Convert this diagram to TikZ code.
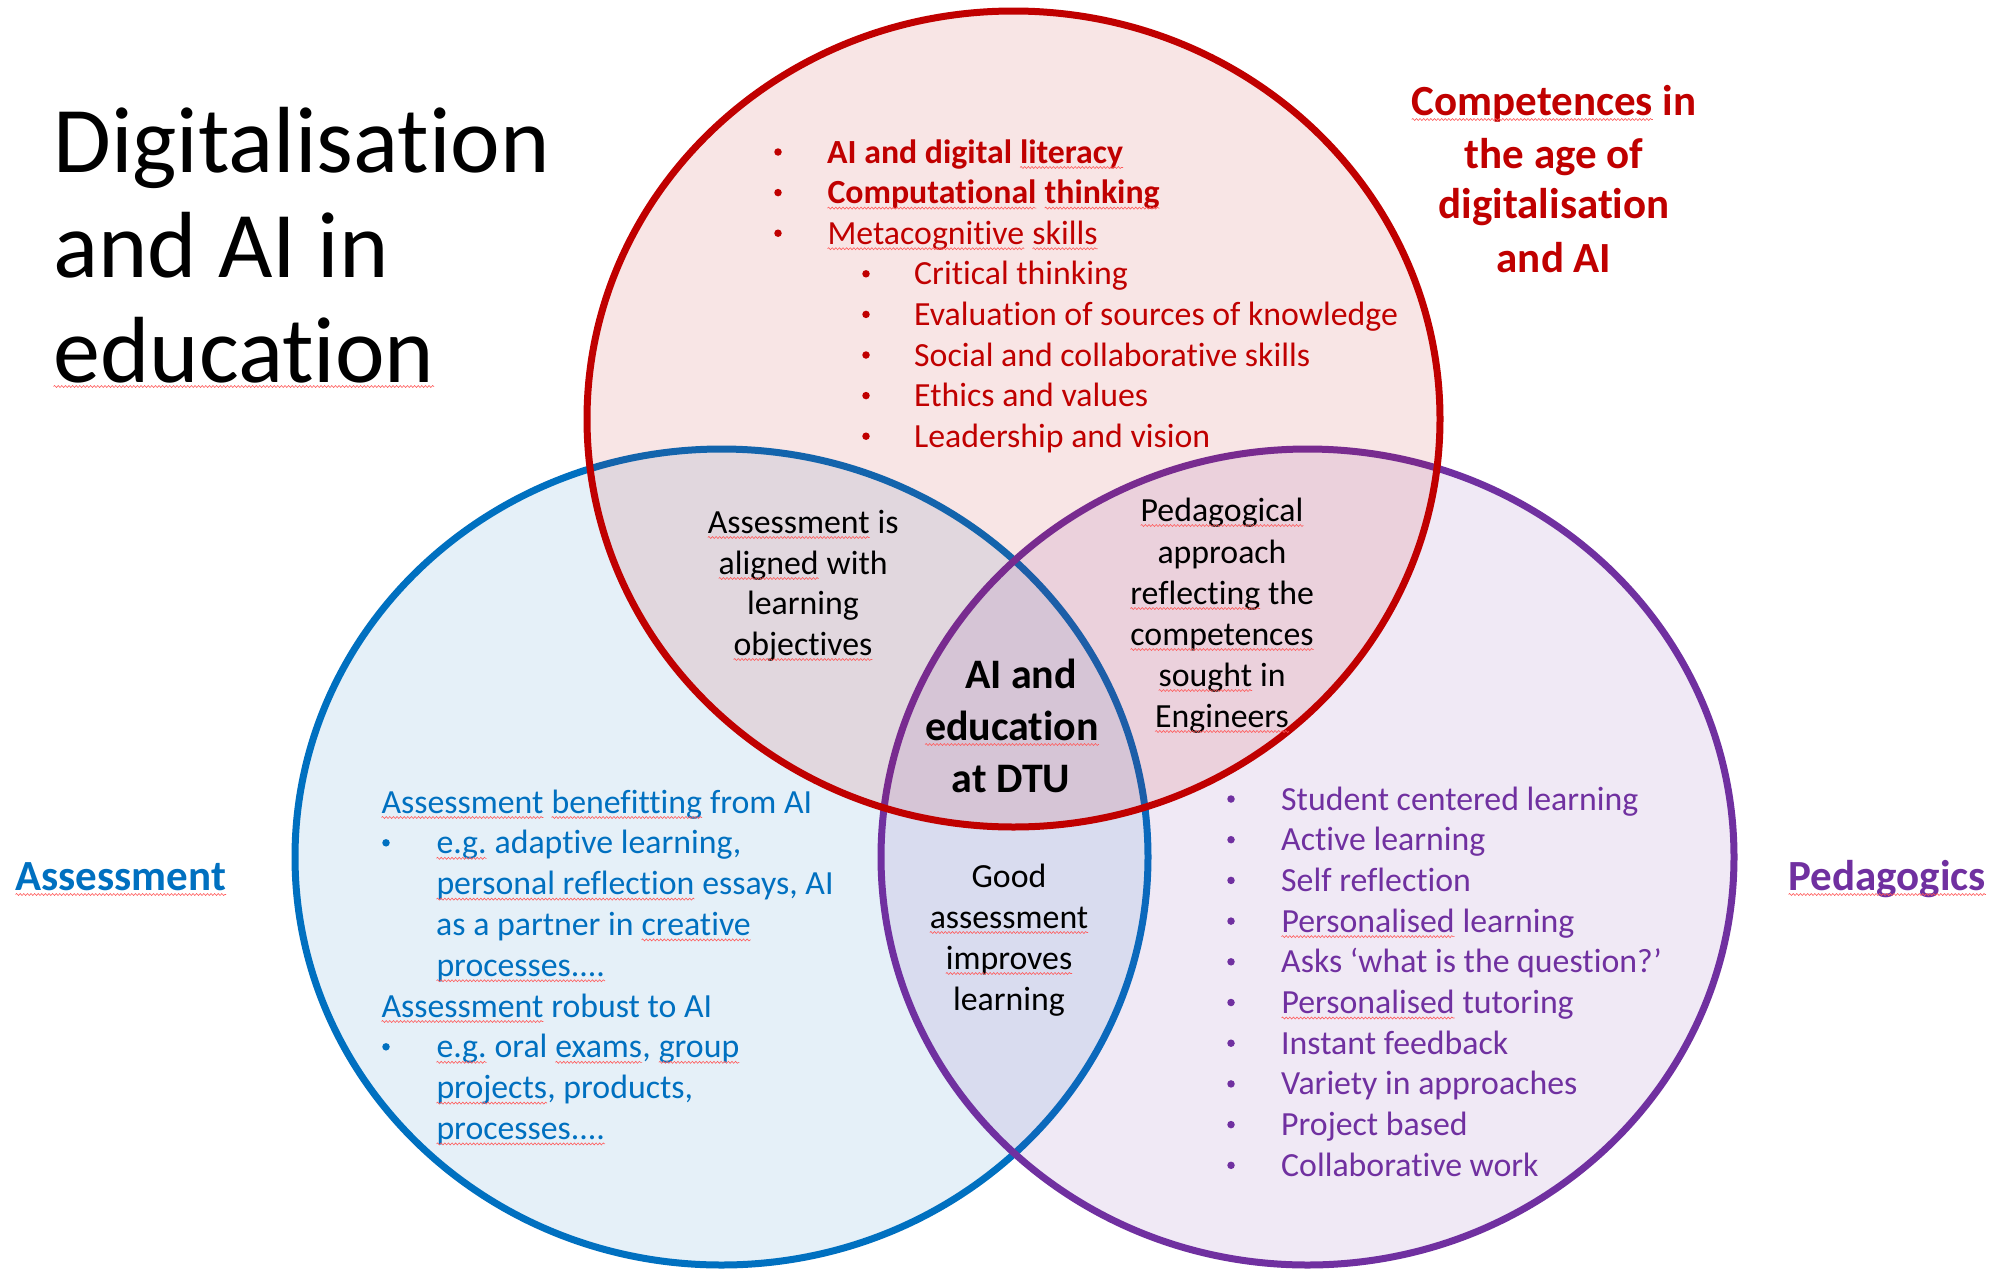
\documentclass[tikz,border=0pt]{standalone}
\usepackage{fontspec}
\setmainfont{Carlito}[Ligatures={TeX,NoCommon}]
\usetikzlibrary{decorations.pathmorphing}
\definecolor{redc}{HTML}{C00000}
\definecolor{bluec}{HTML}{0070C0}
\definecolor{purc}{HTML}{7030A0}
\definecolor{sqred}{RGB}{255,90,90}
\newcommand\sq[1]{\tikz[baseline=(sqw.base)]{\node[inner sep=0pt,outer sep=0pt,anchor=base] (sqw) at (0,0) {#1};
  \draw[sqred, line width=0.6pt, decorate, decoration={snake, amplitude=1pt, segment length=3.6pt}] ([yshift=-4.5pt]sqw.base west) -- ([yshift=-4.5pt]sqw.base east);}}
\tikzset{
  txt/.style={inner sep=0pt, font=\fontsize{33.8}{40.7}\selectfont},
  bigb/.style={inner sep=0pt, font=\fontsize{43}{52}\selectfont\bfseries},
  ctrb/.style={inner sep=0pt, font=\fontsize{42}{52}\selectfont\bfseries},
  titletxt/.style={inner sep=0pt, font=\fontsize{94}{105}\selectfont, anchor=base west},
  venn/.style={line width=7pt, fill opacity=0.1},
  dot/.style={circle, inner sep=0pt, minimum size=7.5pt, draw=none},
}
\newcommand\bl[6]{%
  \node[dot,fill=#5] (#1b) at (#2,#4-11) {};
  \node[txt,text=#5,anchor=base west] (#1) at (#3,#4) {#6};}
\newcommand\cl[5]{%
  \node[txt,text=#4,anchor=base] (#1) at (#2,#3) {#5};}
\begin{document}
\begin{tikzpicture}[x=1pt,y=-1pt]
\useasboundingbox[fill=white] (0,0) rectangle (2002,1269);
% circles
\draw[venn, draw=bluec, fill=bluec] (721.5,857) ellipse [x radius=426.5, y radius=408];
\draw[venn, draw=purc, fill=purc] (1307.5,857) ellipse [x radius=426.5, y radius=408];
\draw[venn, draw=redc, fill=redc] (1013.5,419) ellipse [x radius=426.5, y radius=408];
% title
\node[titletxt] (t1) at (53,172) {Digitalisation};
\node[titletxt] (t2) at (53,277) {and AI in};
\node[titletxt] (t3) at (53,382) {\sq{education}};
% red header
\node[bigb,text=redc,anchor=base] (h1) at (1554,115) {\sq{Competences} in};
\node[bigb,text=redc,anchor=base] (h2) at (1554,168) {the age of};
\node[bigb,text=redc,anchor=base] (h3) at (1554,218) {digitalisation};
\node[bigb,text=redc,anchor=base] (h4) at (1554,272) {and AI};
% red list
\bl{r1}{778}{827}{163}{redc}{\textbf{AI and digital \sq{literacy}}}
\bl{r2}{778}{827}{203.6}{redc}{\textbf{\sq{Computational} \sq{thinking}}}
\bl{r3}{778}{827}{244.2}{redc}{\sq{Metacognitive} \sq{skills}}
\bl{r4}{866}{914}{284.8}{redc}{Critical thinking}
\bl{r5}{866}{914}{325.4}{redc}{Evaluation of sources of knowledge}
\bl{r6}{866}{914}{366}{redc}{Social and collaborative skills}
\bl{r7}{866}{914}{406.6}{redc}{Ethics and values}
\bl{r8}{866}{914}{447.2}{redc}{Leadership and vision}
% red-blue overlap
\cl{a1}{803}{533}{black}{\sq{Assessment} is}
\cl{a2}{803}{574}{black}{\sq{aligned} with}
\cl{a3}{803}{614}{black}{learning}
\cl{a4}{803}{655}{black}{\sq{objectives}}
% red-purple overlap
\cl{p1}{1222}{521}{black}{\sq{Pedagogical}}
\cl{p2}{1222}{563}{black}{approach}
\cl{p3}{1222}{604}{black}{\sq{reflecting} the}
\cl{p4}{1222}{645}{black}{\sq{competences}}
\cl{p5}{1222}{686}{black}{\sq{sought} in}
\cl{p6}{1222}{727}{black}{\sq{Engineers}}
% centre
\node[ctrb,anchor=base] (c1) at (1021,688) {AI and};
\node[ctrb,anchor=base] (c2) at (1012,740) {\sq{education}};
\node[ctrb,anchor=base] (c3) at (1011,792) {at DTU};
% blue-purple overlap
\cl{g1}{1009}{887}{black}{Good}
\cl{g2}{1009}{928}{black}{\sq{assessment}}
\cl{g3}{1009}{969}{black}{\sq{improves}}
\cl{g4}{1009}{1010}{black}{learning}
% blue text
\node[txt,text=bluec,anchor=base west] (b1) at (381,813) {\sq{Assessment} \sq{benefitting} from AI};
\bl{b2}{386}{436}{853.8}{bluec}{\sq{e.g.} adaptive learning,}
\node[txt,text=bluec,anchor=base west] (b3) at (436,894.6) {\sq{personal reflection} essays, AI};
\node[txt,text=bluec,anchor=base west] (b4) at (436,935.4) {as a partner in \sq{creative}};
\node[txt,text=bluec,anchor=base west] (b5) at (436,976.2) {\sq{processes....}};
\node[txt,text=bluec,anchor=base west] (b6) at (381,1017) {\sq{Assessment} robust to AI};
\bl{b7}{386}{436}{1057.8}{bluec}{\sq{e.g.} oral \sq{exams}, \sq{group}}
\node[txt,text=bluec,anchor=base west] (b8) at (436,1098.6) {\sq{projects}, products,};
\node[txt,text=bluec,anchor=base west] (b9) at (436,1139.4) {\sq{processes....}};
% side labels
\node[bigb,text=bluec,anchor=base west] (la) at (15,890) {\sq{Assessment}};
\node[bigb,text=purc,anchor=base west] (lp) at (1788,890) {\sq{Pedagogics}};
% purple list
\bl{u1}{1231}{1281}{810}{purc}{Student centered learning}
\bl{u2}{1231}{1281}{850.7}{purc}{Active learning}
\bl{u3}{1231}{1281}{891.4}{purc}{Self reflection}
\bl{u4}{1231}{1281}{932.1}{purc}{\sq{Personalised} learning}
\bl{u5}{1231}{1281}{972.8}{purc}{Asks ‘what is the question?’}
\bl{u6}{1231}{1281}{1013.5}{purc}{\sq{Personalised} tutoring}
\bl{u7}{1231}{1281}{1054.2}{purc}{Instant feedback}
\bl{u8}{1231}{1281}{1094.9}{purc}{Variety in approaches}
\bl{u9}{1231}{1281}{1135.6}{purc}{Project based}
\bl{u10}{1231}{1281}{1176.3}{purc}{Collaborative work}
\end{tikzpicture}
\end{document}
